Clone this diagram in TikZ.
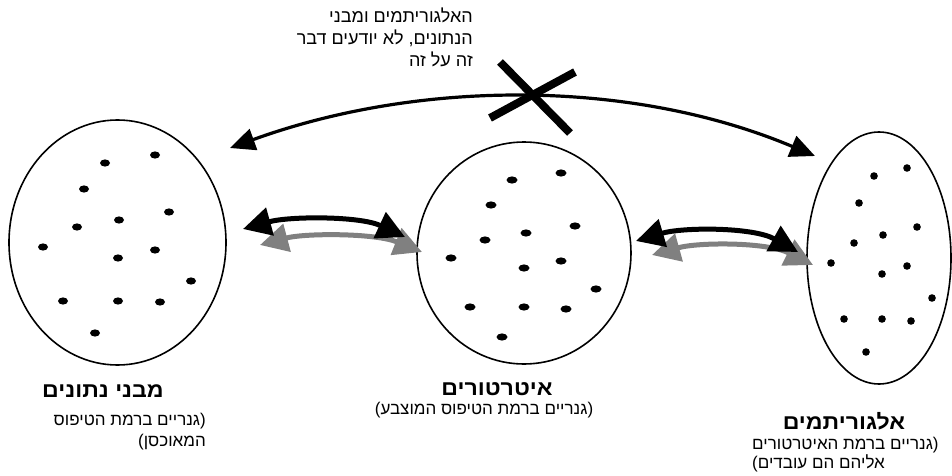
\documentclass[tikz,border=0pt]{standalone}
\usepackage{fontspec}
\setmainfont{Liberation Sans}
\newfontfamily\hebfont[Script=Hebrew]{Liberation Sans}
\newfontfamily\hebhead[Script=Hebrew,FakeStretch=1.1]{Liberation Sans Bold}
\TeXXeTstate=1
\usetikzlibrary{arrows.meta,shapes.geometric}
\begin{document}
\begin{tikzpicture}[x=1pt,y=-1pt,
  blob/.style={draw=black, line width=1.6pt, ellipse, inner sep=0pt},
  hebtxt/.style={inner sep=0pt, font=\hebfont\fontsize{17}{21}\selectfont, align=right},
  notetxt/.style={inner sep=0pt, font=\hebfont\fontsize{18}{22}\selectfont, align=right},
  hebttl/.style={inner sep=0pt, font=\hebhead\fontsize{21}{24}\selectfont},
  toparrow/.style={line width=3.2pt, {Triangle[length=25pt,width=22pt]}-{Triangle[length=25pt,width=22pt]}},
  blkarrow/.style={line width=5pt, black, {Triangle[length=28pt,width=28pt]}-{Triangle[length=28pt,width=28pt]}},
  gryarrow/.style={line width=5pt, black!50, {Triangle[length=28pt,width=28pt]}-{Triangle[length=28pt,width=28pt]}},
  cross/.style={line width=8pt}
]
\useasboundingbox (0,0) rectangle (952,476);

% ellipses
\node[blob, minimum width=217pt, minimum height=245pt] (L) at (117.5,242.5) {};
\node[blob, minimum width=214pt, minimum height=222pt] (M) at (524,253) {};
\node[blob, minimum width=144pt, minimum height=252pt] (R) at (879,258) {};

% dots
\foreach \x/\y in {105/163,155/155,84/189,169/212,119/220,77/227,43/247,155/250,118/258,191/281,63/301,118/301,160/302,95/333}
  \fill (\x,\y) ellipse [x radius=5pt, y radius=3.6pt];
\foreach \x/\y in {512/180,561/173,491/205,575/226,526/233,485/240,451/258,561/261,524/268,596/289,470/307,524/307,566/309,502/337}
  \fill (\x,\y) ellipse [x radius=5.5pt, y radius=3.6pt];
\foreach \x/\y in {874/176,907/168,859/203,917/227,883/235,854/243,831/263,907/266,882/274,932/298,844/319,882/319,911/321,866/352}
  \fill (\x,\y) ellipse [x radius=3.8pt, y radius=3.8pt];

% arrow end points
\coordinate (tl) at (230,148);
\coordinate (tr) at (815,156);
\coordinate (bl1) at (243,229);
\coordinate (br1) at (405,237);
\coordinate (gl1) at (260,245);
\coordinate (gr1) at (422,252);
\coordinate (bl2) at (636,241);
\coordinate (br2) at (798,252);
\coordinate (gl2) at (652,255);
\coordinate (gr2) at (813,265);

% top arrow
\draw[toparrow] (tl) .. controls (420,79) and (632,79) .. (tr);
% cross
\coordinate (x1a) at (500,62); \coordinate (x1b) at (570,133);
\coordinate (x2a) at (575,72); \coordinate (x2b) at (490,118);
\draw[cross] (x1a) -- (x1b);
\draw[cross] (x2a) -- (x2b);

% paired arrows
\draw[gryarrow] (gl1) .. controls (305,233) and (375,233) .. (gr1);
\draw[blkarrow] (bl1) .. controls (290,216) and (360,216) .. (br1);
\draw[gryarrow] (gl2) .. controls (699,242) and (767,242) .. (gr2);
\draw[blkarrow] (bl2) .. controls (683,227) and (753,227) .. (br2);

% texts
\node[notetxt, anchor=north east] (note) at (473,8)
  {\beginR האלגוריתמים ומבני\endR\\\beginR הנתונים, לא יודעים דבר\endR\\\beginR זה על זה\endR};

\node[hebttl] (tL) at (103,391) {\beginR מבני נתונים\endR};
\node[hebtxt, anchor=north east] (sL) at (206,413)
  {\beginR (גנריים ברמת הטיפוס\endR\\\beginR המאוכסן)\endR};

\node[hebttl] (tM) at (497,389) {\beginR איטרטורים\endR};
\node[hebtxt] (sM) at (484,410) {\beginR (גנריים ברמת הטיפוס המוצבע)\endR};

\node[hebttl] (tR) at (844,421) {\beginR אלגוריתמים\endR};
\node[hebtxt, anchor=west] (sR1) at (752,445) {\beginR (גנריים ברמת האיטרטורים\endR};
\node[hebtxt, anchor=west] (sR2) at (752,463) {\beginR אליהם הם עובדים)\endR};
\end{tikzpicture}
\end{document}
